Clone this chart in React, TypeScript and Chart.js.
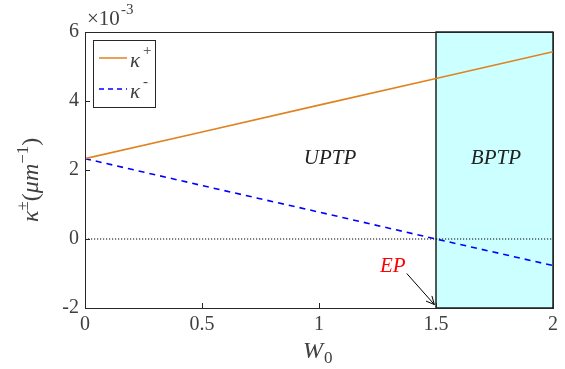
import React, { useEffect, useRef } from "react";
import { Chart, registerables } from "chart.js";

Chart.register(...registerables);

// Data (kappa in units of 1e-3 µm^-1)
const W0 = [0, 0.5, 1, 1.5, 2];
const kappaPlus = [2.33, 3.1, 3.88, 4.65, 5.43];
const kappaMinus = [2.33, 1.55, 0.78, 0.0, -0.77];
const xTicks = [0, 0.5, 1, 1.5, 2];
const yTicks = [-2, 0, 2, 4, 6];
const bptpRegion = [1.5, 2];
const regionLabels = [
  { text: "UPTP", x: 1.047, y: 2.32 },
  { text: "BPTP", x: 1.756, y: 2.32 },
];
const epLabel = { text: "EP", x: 1.315, y: -0.8 };
const epArrowFrom = [1.375, -1.0];
const epArrowTo = [1.493, -1.9];

const SERIF = "\"Liberation Serif\"";
const TEXT = "#404040";

const shapes = {
  id: "shapes",
  beforeDatasetsDraw(chart: any) {
    const { ctx, chartArea: a, scales } = chart;
    const xs = scales.x, ys = scales.y;
    ctx.save();
    const x1 = xs.getPixelForValue(bptpRegion[0]);
    const x2 = xs.getPixelForValue(bptpRegion[1]);
    ctx.fillStyle = "#ccffff";
    ctx.fillRect(x1, a.top, x2 - x1, a.bottom - a.top);
    const y0 = ys.getPixelForValue(0);
    ctx.strokeStyle = "#000";
    ctx.lineWidth = 1.2;
    ctx.setLineDash([1.2, 1.8]);
    ctx.beginPath();
    ctx.moveTo(a.left, y0);
    ctx.lineTo(a.right, y0);
    ctx.stroke();
    ctx.setLineDash([]);
    ctx.lineWidth = 1.3;
    ctx.strokeRect(x1, a.top, x2 - x1, a.bottom - a.top);
    ctx.restore();
  },
  afterDatasetsDraw(chart: any) {
    const { ctx, chartArea: a, scales } = chart;
    const xs = scales.x, ys = scales.y;
    ctx.save();
    ctx.strokeStyle = "#262626";
    ctx.lineWidth = 1;
    ctx.strokeRect(Math.round(a.left) + 0.5, Math.round(a.top) + 0.5, Math.round(a.right - a.left), Math.round(a.bottom - a.top));
    ctx.beginPath();
    xTicks.forEach((v) => {
      const px = Math.round(xs.getPixelForValue(v)) + 0.5;
      ctx.moveTo(px, a.bottom);
      ctx.lineTo(px, a.bottom - 5);
    });
    yTicks.forEach((v) => {
      const py = Math.round(ys.getPixelForValue(v)) + 0.5;
      ctx.moveTo(a.left, py);
      ctx.lineTo(a.left + 5, py);
    });
    ctx.stroke();

    // EP arrow
    const ax = xs.getPixelForValue(epArrowFrom[0]);
    const ay = ys.getPixelForValue(epArrowFrom[1]);
    const bx = xs.getPixelForValue(epArrowTo[0]);
    const by = ys.getPixelForValue(epArrowTo[1]);
    ctx.strokeStyle = "#000";
    ctx.beginPath();
    ctx.moveTo(ax, ay);
    ctx.lineTo(bx, by);
    ctx.stroke();
    const ang = Math.atan2(by - ay, bx - ax);
    const L = 9, W = 0.45;
    ctx.beginPath();
    ctx.moveTo(bx - L * Math.cos(ang - W), by - L * Math.sin(ang - W));
    ctx.lineTo(bx, by);
    ctx.lineTo(bx - L * Math.cos(ang + W), by - L * Math.sin(ang + W));
    ctx.stroke();

    // legend box + line samples
    const lx = 93, ly = 40, lw = 62, lh = 67;
    ctx.fillStyle = "#fff";
    ctx.fillRect(lx, ly, lw, lh);
    ctx.strokeStyle = "#262626";
    ctx.strokeRect(lx + 0.5, ly + 0.5, lw, lh);
    const items = [
      { color: "#e0821e", dash: [] as number[], y: 58 },
      { color: "#0000ff", dash: [5, 4], y: 89 },
    ];
    items.forEach((it) => {
      ctx.strokeStyle = it.color;
      ctx.lineWidth = 1.5;
      ctx.setLineDash(it.dash);
      ctx.beginPath();
      ctx.moveTo(99, it.y);
      ctx.lineTo(127, it.y);
      ctx.stroke();
    });
    ctx.setLineDash([]);
    ctx.restore();
  },
};

function drawText(tctx: CanvasRenderingContext2D, chart: any) {
  const xs = chart.scales.x, ys = chart.scales.y;
  const a = chart.chartArea;
  const ctx = tctx;
  ctx.clearRect(0, 0, ctx.canvas.width, ctx.canvas.height);
  ctx.save();
  // tick labels
  ctx.fillStyle = TEXT;
  ctx.font = `20px ${SERIF}`;
  ctx.textAlign = "center";
  ctx.textBaseline = "top";
  xTicks.forEach((v) => ctx.fillText(String(v), xs.getPixelForValue(v), a.bottom + 7));
  ctx.textAlign = "right";
  ctx.textBaseline = "middle";
  yTicks.forEach((v) => ctx.fillText(String(v), a.left - 6, ys.getPixelForValue(v)));

  // region labels
  ctx.fillStyle = "#222";
  ctx.font = `italic 21px ${SERIF}`;
  ctx.textAlign = "center";
  regionLabels.forEach((r) => ctx.fillText(r.text, xs.getPixelForValue(r.x), ys.getPixelForValue(r.y)));
  ctx.fillStyle = "#ff0000";
  ctx.fillText(epLabel.text, xs.getPixelForValue(epLabel.x), ys.getPixelForValue(epLabel.y));

  // legend labels
  ctx.fillStyle = TEXT;
  ctx.textAlign = "left";
  ctx.textBaseline = "alphabetic";
  [{ y: 58, sup: "+" }, { y: 89, sup: "-" }].forEach((it) => {
    ctx.font = `italic 21px ${SERIF}`;
    ctx.fillText("κ", 130, it.y + 9);
    ctx.font = `15px ${SERIF}`;
    ctx.fillText(it.sup, 143, it.y - 3);
  });

  // exponent
  ctx.font = `21px ${SERIF}`;
  ctx.fillText("×10", 87, 25);
  ctx.font = `15px ${SERIF}`;
  ctx.fillText("-3", 121, 14);

  // x title
  ctx.font = `italic 24px ${SERIF}`;
  ctx.fillText("W", 303, 358);
  ctx.font = `17px ${SERIF}`;
  ctx.fillText("0", 324, 363);

  // y title
  ctx.translate(38, 222);
  ctx.rotate(-Math.PI / 2);
  let cx = 0;
  const put = (t: string, font: string, dy = 0) => {
    ctx.font = font;
    ctx.fillText(t, cx, dy);
    cx += ctx.measureText(t).width;
  };
  put("κ", `italic 24px ${SERIF}`);
  put("±", `17px ${SERIF}`, -10);
  put("(", `24px ${SERIF}`);
  put("μm", `italic 24px ${SERIF}`);
  put("−1", `17px ${SERIF}`, -10);
  put(")", `24px ${SERIF}`);
  ctx.restore();
}

export default function App() {
  const ref = useRef<HTMLCanvasElement | null>(null);
  const textRef = useRef<HTMLCanvasElement | null>(null);
  useEffect(() => {
    document.body.style.margin = "0";
    const textCanvas = textRef.current as HTMLCanvasElement;
    const tctx = textCanvas.getContext("2d") as CanvasRenderingContext2D;
    const textPlugin = {
      id: "textLayer",
      afterDraw(chart: any) { drawText(tctx, chart); },
    };
    const chart = new Chart(ref.current as HTMLCanvasElement, {
      type: "line",
      data: {
        datasets: [
          {
            label: "κ+",
            data: W0.map((x, i) => ({ x, y: kappaPlus[i] })),
            borderColor: "#e0821e",
            borderWidth: 1.6,
            pointRadius: 0,
            tension: 0,
          },
          {
            label: "κ-",
            data: W0.map((x, i) => ({ x, y: kappaMinus[i] })),
            borderColor: "#0000ff",
            borderWidth: 1.6,
            borderDash: [6, 5],
            pointRadius: 0,
            tension: 0,
          },
        ],
      },
      options: {
        animation: false,
        responsive: false,
        layout: { padding: { top: 32, right: 12, left: 0, bottom: 0 } },
        plugins: { legend: { display: false }, tooltip: { enabled: false } },
        scales: {
          x: {
            type: "linear",
            min: 0,
            max: 2,
            afterFit: (s: any) => { s.height = 61; },
            afterBuildTicks: (s: any) => { s.ticks = xTicks.map((v) => ({ value: v })); },
            grid: { display: false, drawTicks: false },
            border: { display: false },
            ticks: { display: false },
          },
          y: {
            type: "linear",
            min: -2,
            max: 6,
            afterFit: (s: any) => { s.width = 85; },
            afterBuildTicks: (s: any) => { s.ticks = yTicks.map((v) => ({ value: v })); },
            grid: { display: false, drawTicks: false },
            border: { display: false },
            ticks: { display: false },
          },
        },
      },
      plugins: [shapes, textPlugin],
    } as any);
    const redraw = () => { try { drawText(tctx, chart); } catch (e) {} };
    const fonts: any = (document as any).fonts;
    if (fonts && fonts.ready) fonts.ready.then(redraw);
    const t = setTimeout(redraw, 150);
    return () => { clearTimeout(t); chart.destroy(); };
  }, []);
  return (
    <div style={{ position: "absolute", left: 0, top: 0, width: 565, height: 369, background: "#fff" }}>
      <canvas ref={ref} width={565} height={369} style={{ position: "absolute", left: 0, top: 0, width: 565, height: 369 }} />
      <canvas ref={textRef} width={565} height={369} style={{ position: "absolute", left: 0, top: 0, width: 565, height: 369, pointerEvents: "none" }} />
    </div>
  );
}
